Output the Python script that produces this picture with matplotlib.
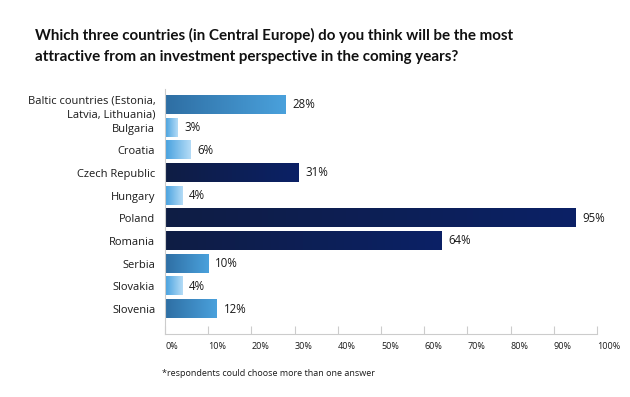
import matplotlib
matplotlib.use("Agg")
import matplotlib.pyplot as plt
import numpy as np
from matplotlib.colors import LinearSegmentedColormap

categories = ["Baltic countries (Estonia,\nLatvia, Lithuania)", "Bulgaria", "Croatia",
              "Czech Republic", "Hungary", "Poland", "Romania", "Serbia", "Slovakia", "Slovenia"]
values = [28, 3, 6, 31, 4, 95, 64, 10, 4, 12]
xticks = [0, 10, 20, 30, 40, 50, 60, 70, 80, 90, 100]
title = ("Which three countries (in Central Europe) do you think will be the most\n"
         "attractive from an investment perspective in the coming years?")
footnote = "*respondents could choose more than one answer"

plt.rcParams['font.family'] = ['Open Sans', 'DejaVu Sans']

fig = plt.figure(figsize=(6.3, 3.97), dpi=100)
ax = fig.add_axes([165/630, 1-334/397, 432/630, 245/397])

dark = LinearSegmentedColormap.from_list("dark", ["#0f1d44", "#0b2166"])
mid = LinearSegmentedColormap.from_list("mid", ["#2e6ea3", "#4aa1dc"])
light = LinearSegmentedColormap.from_list("light", ["#45a0de", "#b5dcf7"])

y = np.arange(len(categories))
bars = ax.barh(y, values, height=0.8, color="none", edgecolor="none")
grad = np.linspace(0, 1, 256).reshape(1, -1)
for b, v in zip(bars, values):
    cmap = dark if v >= 30 else (mid if v >= 10 else light)
    x0, y0 = b.get_x(), b.get_y()
    w, h = b.get_width(), b.get_height()
    ax.imshow(grad, cmap=cmap, aspect="auto", extent=[x0, x0 + w, y0 + h, y0],
              interpolation="bicubic", zorder=2)
    ax.annotate(f"{v}%", (x0 + w, y0 + h / 2), xytext=(5, 0), textcoords="offset points",
                va="center", ha="left", fontsize=8.3, color="#1a1a1a")

ax.set_xlim(0, 100)
ax.set_ylim(len(categories) - 1 + 1.1, -0.7)
ax.set_yticks(y)
ax.set_yticklabels(categories, fontsize=8, color="#1a1a1a", linespacing=1.4)
ax.set_xticks(xticks)
ax.set_xticklabels([f"{t}%" for t in xticks], fontsize=6.5, color="#1a1a1a", ha="left")
ax.tick_params(axis="y", length=0, pad=7)
ax.tick_params(axis="x", direction="in", length=6, color="#cccccc", pad=6)
for s in ["top", "right"]:
    ax.spines[s].set_visible(False)
ax.spines["left"].set_color("#cccccc")
ax.spines["bottom"].set_color("#cccccc")

fig.text(35/630, 1-28/397, title, fontsize=10.9, fontweight="bold", color="#111111",
         va="top", ha="left", linespacing=1.62, family=["Lato", "DejaVu Sans"])
fig.text(162/630, 1-374/397, footnote, fontsize=6.5, color="#1a1a1a", va="center", ha="left")

fig.savefig("out.png", dpi=100)
